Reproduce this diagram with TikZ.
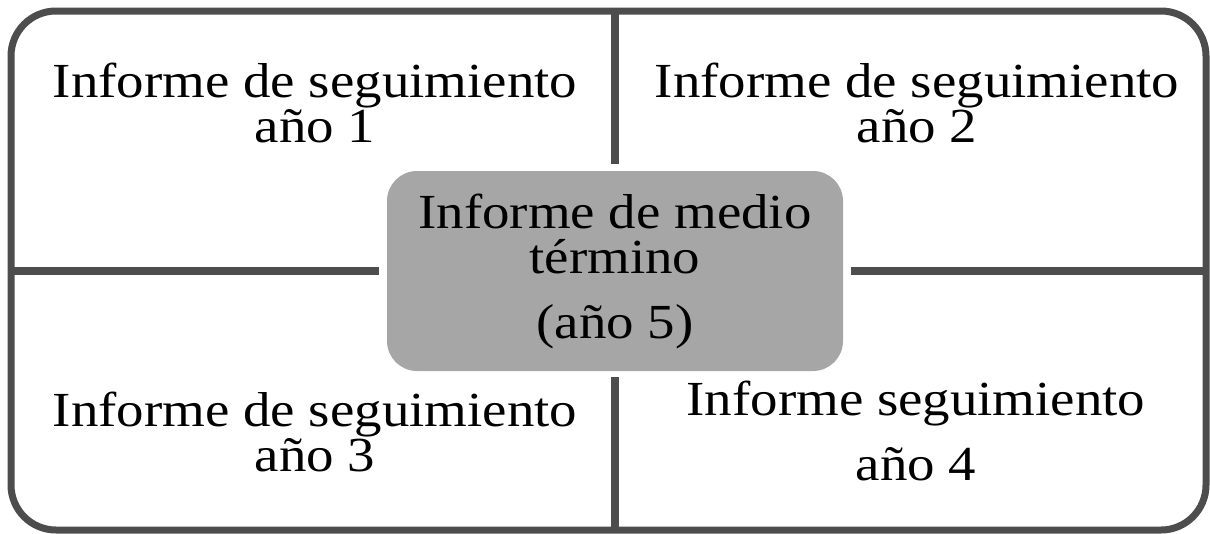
\documentclass[tikz,border=0pt]{standalone}
\usepackage{fontspec}
\setmainfont[FakeStretch=1.12]{Liberation Serif}
\usepackage{tikz}
\usetikzlibrary{calc}
\usepackage{xcolor}
\definecolor{framegray}{HTML}{4D4D4D}
\definecolor{boxgray}{HTML}{A6A6A6}
\newcommand{\reportfont}{\fontsize{49}{45}\selectfont\setlength{\lineskiplimit}{-100pt}}

\begin{document}
\begin{tikzpicture}[x=1pt,y=-1pt]
  \tikzset{reportframe/.style={draw=framegray,line width=7pt,rounded corners=45pt,outer sep=0pt,minimum width=1195pt,minimum height=519pt,inner sep=0pt}}
  \tikzset{midbox/.style={fill=boxgray,rounded corners=30pt,outer sep=0pt,minimum width=456pt,minimum height=200pt,inner sep=0pt}}
  \tikzset{divider/.style={draw=framegray,line width=7.5pt}}
  \tikzset{reportlabel/.style={font=\reportfont,align=center,inner sep=0pt,text=black,anchor=base}}
  \useasboundingbox (0,0) rectangle (1210,533);
  \node[reportframe] (frame) at (608.5,270.5) {};
  \node[midbox] (mid) at (615,271) {};
  \draw[divider] (frame.north -| mid.north) -- ([yshift=7pt]mid.north);
  \draw[divider] (frame.south -| mid.south) -- ([yshift=-6pt]mid.south);
  \draw[divider] (frame.west |- mid.west) -- ([xshift=-8pt]mid.west);
  \draw[divider] (frame.east |- mid.east) -- ([xshift=8pt]mid.east);
  \node[reportlabel] (r1) at (315,142) {Informe de seguimiento\\año 1};
  \node[reportlabel] (r2) at (917,142) {Informe de seguimiento\\año 2};
  \node[reportlabel] (r3) at (315,471) {Informe de seguimiento\\año 3};
  \node[reportlabel] (r4) at (916,480) {Informe seguimiento\\[20pt]año 4};
  \node[reportlabel] (r5) at (615,338) {Informe de medio\\término\\[20pt](año 5)};
\end{tikzpicture}
\end{document}
